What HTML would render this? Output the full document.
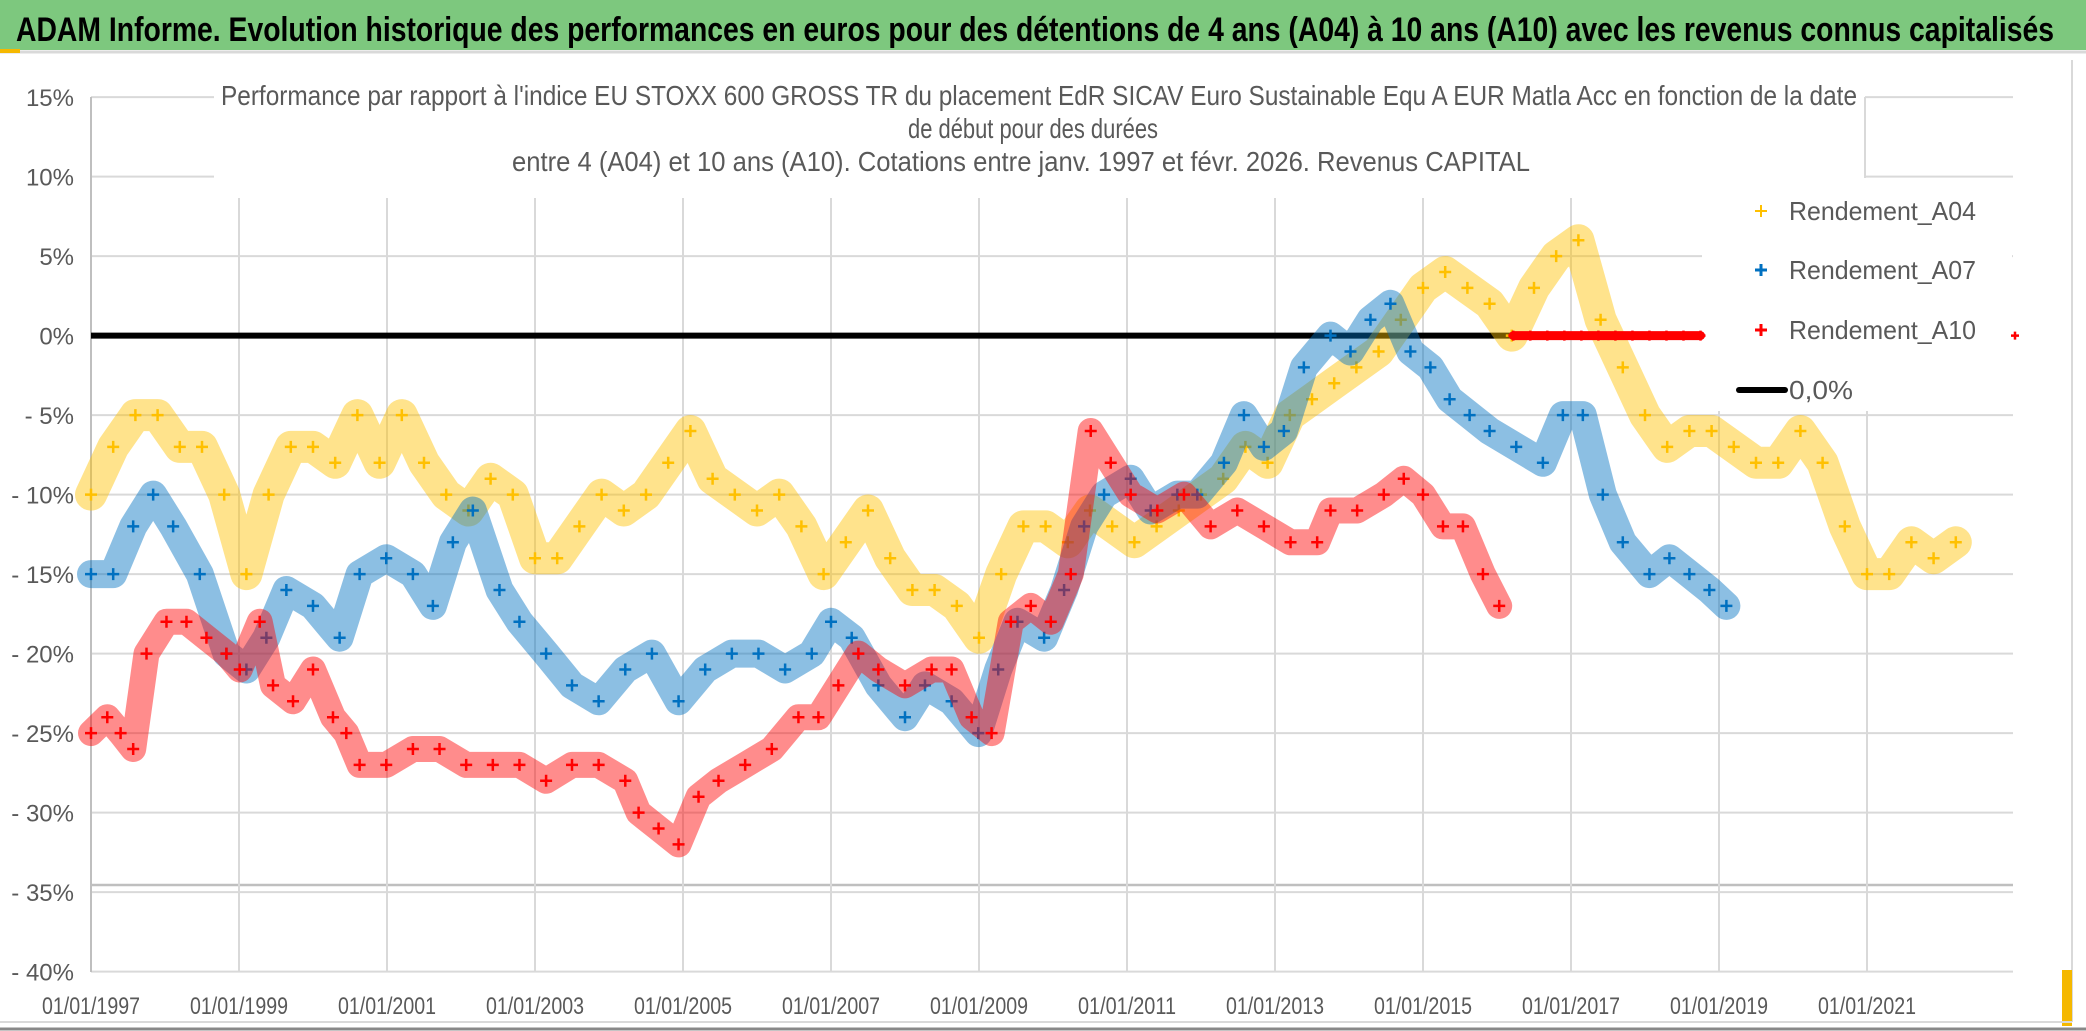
<!DOCTYPE html>
<html><head><meta charset="utf-8"><style>
html,body{margin:0;padding:0;background:#fff;}
svg{display:block;}
text{font-family:"Liberation Sans",sans-serif;}
</style></head><body>
<svg id="chart" width="2086" height="1031" viewBox="0 0 2086 1031" xmlns="http://www.w3.org/2000/svg">
<rect x="0" y="0" width="2086" height="1031" fill="#fff"/>
<rect x="0" y="0" width="2086" height="50" fill="#7dc87e"/>
<line x1="0" y1="52" x2="2086" y2="52" stroke="#d9d9d9" stroke-width="3"/>
<rect x="0" y="49" width="20" height="4" fill="#f5b800"/>
<text x="16" y="41" font-size="34" font-weight="bold" fill="#000" textLength="2038" lengthAdjust="spacingAndGlyphs">ADAM Informe. Evolution historique des performances en euros pour des détentions de 4 ans (A04) à 10 ans (A10) avec les revenus connus capitalisés</text>
<line x1="2072" y1="60" x2="2072" y2="1022" stroke="#d9d9d9" stroke-width="2"/>
<rect x="2062" y="970" width="10" height="56" fill="#f5b800"/>
<line x1="0" y1="1022" x2="2072" y2="1022" stroke="#d9d9d9" stroke-width="2"/>
<line x1="0" y1="1029" x2="2086" y2="1029" stroke="#888" stroke-width="3"/>
<g id="grid"></g>
<g id="yaxis"></g>
<g id="xaxis"></g>
<rect x="214" y="70" width="1651" height="127" fill="#fff"/>
<line x1="1865" y1="97" x2="1865" y2="178" stroke="#d9d9d9" stroke-width="2"/>
<rect x="1702" y="186" width="310" height="225" fill="#fff"/>
<g>
<text x="221" y="105" font-size="28" fill="#595959" textLength="1636" lengthAdjust="spacingAndGlyphs">Performance  par rapport à l'indice EU STOXX 600 GROSS TR  du placement EdR SICAV Euro Sustainable Equ A EUR Matla Acc en fonction de la date</text>
<text x="908" y="138" font-size="28" fill="#595959" textLength="250" lengthAdjust="spacingAndGlyphs">de début pour des durées</text>
<text x="512" y="171" font-size="28" fill="#595959" textLength="1018" lengthAdjust="spacingAndGlyphs">entre 4 (A04) et 10 ans (A10). Cotations entre janv. 1997 et févr. 2026. Revenus CAPITAL</text>
</g>
<g id="zero"></g>
<g id="series"></g>
<g>
<g><path d="M1755 211h12M1761 205v12" stroke="#FFC000" stroke-width="2"/><text x="1789" y="220" font-size="26" fill="#595959" textLength="187" lengthAdjust="spacingAndGlyphs">Rendement_A04</text></g>
<g><path d="M1755 270h12M1761 264v12" stroke="#0070C0" stroke-width="3"/><text x="1789" y="279" font-size="26" fill="#595959" textLength="187" lengthAdjust="spacingAndGlyphs">Rendement_A07</text></g>
<g><path d="M1755 330h12M1761 324v12" stroke="#FF0000" stroke-width="3"/><text x="1789" y="339" font-size="26" fill="#595959" textLength="187" lengthAdjust="spacingAndGlyphs">Rendement_A10</text></g>
<g><line x1="1739" y1="390" x2="1785" y2="390" stroke="#000" stroke-width="6" stroke-linecap="round"/><text x="1789" y="399" font-size="26" fill="#595959" textLength="64" lengthAdjust="spacingAndGlyphs">0,0%</text></g>
</g>
</svg>
<script>
const yTicks = [15,10,5,0,-5,-10,-15,-20,-25,-30,-35,-40];
const yTickLabels = ["15%","10%","5%","0%","- 5%","- 10%","- 15%","- 20%","- 25%","- 30%","- 35%","- 40%"];
const xTicks = [1997,1999,2001,2003,2005,2007,2009,2011,2013,2015,2017,2019,2021];
const xTickLabels = ["01/01/1997","01/01/1999","01/01/2001","01/01/2003","01/01/2005","01/01/2007","01/01/2009","01/01/2011","01/01/2013","01/01/2015","01/01/2017","01/01/2019","01/01/2021"];
const zeroLineRange = [1997.0, 2016.2];
const a04Start = 1997.0;
const a04Step = 0.3;
const a04Values = [-10,-7,-5,-5,-7,-7,-10,-15,-10,-7,-7,-8,-5,-8,-5,-8,-10,-11,-9,-10,-14,-14,-12,-10,-11,-10,-8,-6,-9,-10,-11,-10,-12,-15,-13,-11,-14,-16,-16,-17,-19,-15,-12,-12,-13,-11,-12,-13,-12,-11,-10,-9,-7,-8,-5,-4,-3,-2,-1,1,3,4,3,2,0,3,5,6,1,-2,-5,-7,-6,-6,-7,-8,-8,-6,-8,-12,-15,-15,-13,-14,-13];
const a07Dates = [1997.0,1997.3,1997.57,1997.84,1998.11,1998.47,1998.83,1999.1,1999.37,1999.64,2000.0,2000.36,2000.63,2000.99,2001.35,2001.62,2001.89,2002.16,2002.52,2002.79,2003.15,2003.5,2003.86,2004.22,2004.58,2004.94,2005.3,2005.66,2006.02,2006.38,2006.74,2007.0,2007.28,2007.64,2008.0,2008.27,2008.63,2008.99,2009.26,2009.52,2009.88,2010.15,2010.42,2010.69,2011.05,2011.32,2011.68,2011.95,2012.31,2012.58,2012.85,2013.12,2013.39,2013.75,2014.02,2014.29,2014.56,2014.83,2015.1,2015.36,2015.63,2015.9,2016.26,2016.62,2016.89,2017.16,2017.43,2017.7,2018.06,2018.33,2018.6,2018.87,2019.1];
const a07Values = [-15,-15,-12,-10,-12,-15,-20,-21,-19,-16,-17,-19,-15,-14,-15,-17,-13,-11,-16,-18,-20,-22,-23,-21,-20,-23,-21,-20,-20,-21,-20,-18,-19,-22,-24,-22,-23,-25,-21,-18,-19,-16,-12,-10,-9,-11,-10,-10,-8,-5,-7,-6,-2,0,-1,1,2,-1,-2,-4,-5,-6,-7,-8,-5,-5,-10,-13,-15,-14,-15,-16,-17];
const a10Dates = [1997.0,1997.22,1997.4,1997.57,1997.75,1998.02,1998.29,1998.56,1998.83,1999.01,1999.28,1999.46,1999.73,2000.0,2000.27,2000.45,2000.63,2000.99,2001.35,2001.71,2002.07,2002.43,2002.79,2003.15,2003.5,2003.86,2004.22,2004.4,2004.67,2004.94,2005.21,2005.48,2005.84,2006.2,2006.56,2006.83,2007.1,2007.37,2007.64,2008.0,2008.36,2008.63,2008.9,2009.17,2009.43,2009.7,2009.97,2010.24,2010.51,2010.78,2011.05,2011.41,2011.77,2012.13,2012.49,2012.85,2013.21,2013.57,2013.75,2014.11,2014.47,2014.74,2015.0,2015.27,2015.54,2015.81,2016.03];
const a10Values = [-25,-24,-25,-26,-20,-18,-18,-19,-20,-21,-18,-22,-23,-21,-24,-25,-27,-27,-26,-26,-27,-27,-27,-28,-27,-27,-28,-30,-31,-32,-29,-28,-27,-26,-24,-24,-22,-20,-21,-22,-21,-21,-24,-25,-18,-17,-18,-15,-6,-8,-10,-11,-10,-12,-11,-12,-13,-13,-11,-11,-10,-9,-10,-12,-12,-15,-17];
const a10ZeroDates = [2016.22,2016.45,2016.68,2016.91,2017.14,2017.37,2017.6,2017.83,2018.06,2018.29,2018.52,2018.75];
const a10ZeroValues = [0,0,0,0,0,0,0,0,0,0,0,0];
const a10StrayDates = [2023.0];
const a10StrayValues = [0];

const NS = "http://www.w3.org/2000/svg";
const X = yr => 91 + (yr - 1997) * 74;
const Y = v => 335.6 - v * 15.9;
function mk(tag, attrs, parent){ const e=document.createElementNS(NS,tag); for(const k in attrs) e.setAttribute(k,attrs[k]); parent.appendChild(e); return e; }

const grid = document.getElementById('grid');
const yaxis = document.getElementById('yaxis');
const xaxis = document.getElementById('xaxis');
yTicks.forEach((t,i)=>{
  const ln = mk('line',{x1:91,y1:Y(t),x2:2013,y2:Y(t),stroke:'#d9d9d9','stroke-width':2},grid);
  
  
  const tx = mk('text',{x:74,y:Y(t)+9,'font-size':24,fill:'#595959','text-anchor':'end'},yaxis);
  tx.textContent = yTickLabels[i];
  
  
});
const extra = mk('line',{x1:91,y1:885,x2:2013,y2:885,stroke:'#bfbfbf','stroke-width':2.5},grid);


xTicks.forEach((t,i)=>{
  if(i>0){
    const ln = mk('line',{x1:X(t),y1:198,x2:X(t),y2:972,stroke:'#d9d9d9','stroke-width':2},grid);
    
    
  }
  const tx = mk('text',{x:X(t),y:1014,'font-size':24,fill:'#595959','text-anchor':'middle',textLength:98,lengthAdjust:'spacingAndGlyphs'},xaxis);
  tx.textContent = xTickLabels[i];
  
  
});
const ax = mk('line',{x1:91,y1:97,x2:91,y2:972,stroke:'#bfbfbf','stroke-width':2},yaxis);



const zl = mk('line',{x1:X(zeroLineRange[0]),y1:Y(0),x2:X(zeroLineRange[1]),y2:Y(0),stroke:'#000','stroke-width':6},document.getElementById('zero'));



const series = document.getElementById('series');
function drawSeries(name,color,dates,vals,band,op,plusSize,sw){
  const g = mk('g',{},series);
  
  
  if(band>0 && dates.length>1){
    const pts = dates.map((d,i)=>X(d).toFixed(1)+','+Y(vals[i]).toFixed(1)).join(' ');
    const pl = mk('polyline',{points:pts,fill:'none',stroke:color,'stroke-width':band,'stroke-opacity':op,'stroke-linejoin':'round','stroke-linecap':'round'},g);
    
    
  }
  dates.forEach((d,i)=>{
    const x=X(d), y=Y(vals[i]);
    const p = mk('path',{d:`M${x-plusSize} ${y}h${2*plusSize}M${x} ${y-plusSize}v${2*plusSize}`,stroke:color,'stroke-width':sw},g);
    
    
  });
}
const a04Dates = a04Values.map((v,i)=>a04Start + i*a04Step);
drawSeries('a04','#FFC000',a04Dates,a04Values,32,0.45,6,2.5);
drawSeries('a07','#0070C0',a07Dates,a07Values,28,0.45,6,2.5);
drawSeries('a10','#FF0000',a10Dates,a10Values,26,0.45,6,2.5);
drawSeries('a10-zero','#FF0000',a10ZeroDates,a10ZeroValues,9,1,5,2.5);
drawSeries('a10-stray','#FF0000',a10StrayDates,a10StrayValues,0,1,4,2.5);
</script>
</body></html>
